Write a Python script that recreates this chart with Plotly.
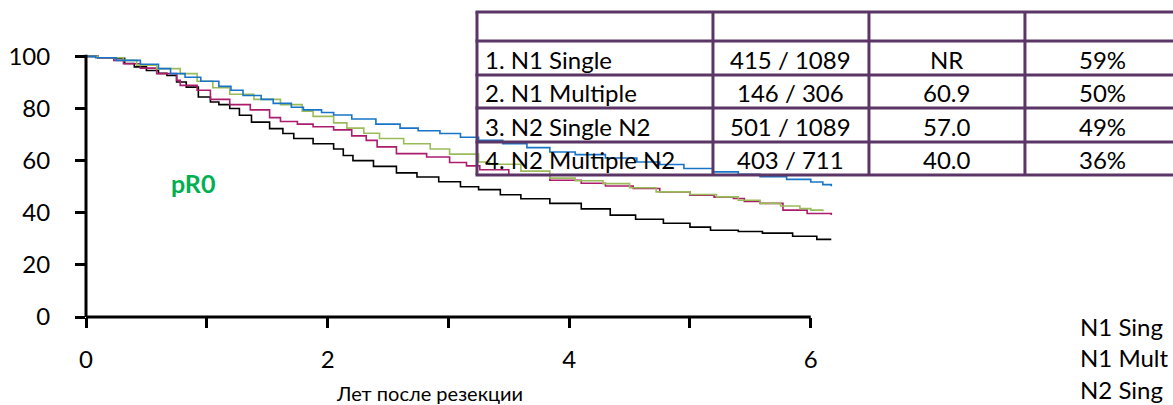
import plotly.graph_objects as go

# ---------------- data ----------------
series_names = ["1. N1 Single", "2. N1 Multiple", "3. N2 Single N2", "4. N2 Multiple N2"]
series_colors = ["#1874C8", "#9BBB59", "#AC1C6C", "#000000"]

t_n1_single = [0, 0.08, 0.25, 0.45, 0.6, 0.7, 0.82, 0.95, 1.1, 1.2, 1.3, 1.45, 1.55, 1.7, 1.8,
               1.95, 2.05, 2.2, 2.4, 2.6, 2.75, 2.93, 3.1, 3.25, 3.45, 3.65, 3.84, 4.05, 4.3,
               4.56, 4.75, 4.95, 5.19, 5.4, 5.58, 5.8, 6.0, 6.1, 6.17]
s_n1_single = [100, 99.5, 98.5, 97, 95.3, 93.4, 92, 90.5, 88.5, 87, 85, 83.5, 82, 80.5, 79.5,
               78.5, 77.5, 76, 74, 72.5, 71.5, 70.4, 69, 67.8, 66.5, 65, 63.3, 62.3, 61,
               59.5, 58.5, 57, 55.7, 54.8, 53.8, 52.8, 51.8, 50.8, 50.2]

t_n1_multiple = [0, 0.1, 0.31, 0.42, 0.585, 0.78, 0.92, 1.05, 1.19, 1.39, 1.61, 1.79, 1.88,
                 2.05, 2.16, 2.3, 2.43, 2.63, 2.85, 3.01, 3.25, 3.34, 3.6, 3.84, 4.05, 4.28,
                 4.5, 4.72, 5.0, 5.22, 5.4, 5.58, 5.75, 5.91, 6.0, 6.1]
s_n1_multiple = [100, 99.5, 98.5, 96.6, 95.3, 93.4, 90.5, 88, 85.5, 83.5, 81.5, 79, 77,
                 74.5, 72.5, 70.5, 68.5, 66.5, 64.5, 62.5, 59.5, 58.6, 56, 53.3, 52.3, 51.2,
                 49.6, 48, 47, 46.1, 44.8, 43.6, 42.6, 41.6, 41, 40.6]

t_n2_single = [0, 0.1, 0.23, 0.31, 0.45, 0.585, 0.75, 0.78, 0.92, 1.03, 1.19, 1.36, 1.52,
               1.61, 1.75, 1.88, 2.05, 2.2, 2.32, 2.41, 2.57, 2.82, 3.01, 3.15, 3.26, 3.5,
               3.84, 4.1, 4.3, 4.53, 4.75, 5.0, 5.2, 5.36, 5.45, 5.58, 5.77, 5.97, 6.17]
s_n2_single = [100, 99.3, 98.5, 97.2, 95.5, 93.4, 90.8, 88.9, 87, 83.5, 81.5, 79.5, 76.5,
               75, 74, 73, 71.8, 69.5, 67.8, 65.3, 62.7, 61.4, 59.3, 58, 56.5, 54.5,
               52.5, 51.3, 50.3, 49.3, 48, 46.7, 46, 45.5, 44.3, 43.6, 41, 39.7, 39.1]

t_n2_multiple = [0, 0.1, 0.32, 0.4, 0.5, 0.6, 0.67, 0.75, 0.83, 0.93, 1.03, 1.1, 1.19, 1.27,
                 1.37, 1.52, 1.63, 1.72, 1.88, 2.05, 2.13, 2.21, 2.38, 2.57, 2.74, 2.92, 3.1,
                 3.25, 3.43, 3.6, 3.84, 4.1, 4.34, 4.55, 4.78, 5.0, 5.17, 5.4, 5.6, 5.85,
                 6.05, 6.17]
s_n2_multiple = [100, 99.3, 97.3, 96, 94.6, 93.5, 92.7, 90.2, 88.2, 84.4, 82.5, 81.5, 80,
                 77.4, 74.8, 72.3, 70.4, 68.5, 66.5, 64.5, 62, 60, 57.8, 55.3, 53.7, 51.9,
                 50, 48.9, 46.9, 45.4, 43.6, 41.5, 39.1, 37.5, 36, 34.5, 33.3, 32.8, 32.2,
                 31, 29.8, 29.8]

series_t = [t_n1_single, t_n1_multiple, t_n2_single, t_n2_multiple]
series_s = [s_n1_single, s_n1_multiple, s_n2_single, s_n2_multiple]

table_labels = ["1. N1 Single", "2. N1 Multiple", "3. N2 Single N2", "4. N2 Multiple N2"]
table_events = ["415 / 1089", "146 / 306", "501 / 1089", "403 / 711"]
table_median = ["NR", "60.9", "57.0", "40.0"]
table_rate5 = ["59%", "50%", "49%", "36%"]

x_tick_vals = [0, 1, 2, 3, 4, 5, 6]
x_tick_text = ["0", "", "2", "", "4", "", "6"]
y_tick_vals = [0, 20, 40, 60, 80, 100]

x_title = "Лет после резекции"
panel_label = "pR0"
# legend entries of the original slide, visible only partly at the right edge
cut_legend = ["N1 Sing", "N1 Mult", "N2 Sing"]

# ---------------- layout geometry ----------------
W, H = 1173, 405
ML, MB, MT = 86, 88, 46
X_RANGE = [0, 6.3]
Y_RANGE = [0, 104]
PX_PER_X = 120.8
PLOT_W = (X_RANGE[1] - X_RANGE[0]) * PX_PER_X
MR = W - ML - PLOT_W
PLOT_H = H - MB - MT


def px_x(px):
    return (px - ML) / PLOT_W


def px_y(py):
    return ((H - MB) - py) / PLOT_H


FONT = "Lato"
fig = go.Figure()

draw_order = [3, 2, 1, 0]
for i in draw_order:
    fig.add_trace(go.Scatter(
        x=series_t[i], y=series_s[i], mode="lines", name=series_names[i],
        line=dict(color=series_colors[i], width=1.6, shape="hv"),
        showlegend=False, hoverinfo="skip"))

shapes = []
# axis lines
shapes.append(dict(type="line", xref="paper", yref="paper",
                   x0=0, x1=6 / X_RANGE[1], y0=0, y1=0,
                   line=dict(color="black", width=3)))
shapes.append(dict(type="line", xref="paper", yref="paper",
                   x0=0, x1=0, y0=0, y1=100.6 / Y_RANGE[1],
                   line=dict(color="black", width=3)))

# table grid
tbl_color = "#5B3566"
row_lines = [12, 41, 75, 108, 142, 175]
col_lines = [477, 713, 869, 1025]
tbl_right = 1200
for yl in row_lines:
    shapes.append(dict(type="line", xref="paper", yref="paper",
                       x0=px_x(col_lines[0] - 1.5), x1=px_x(tbl_right), y0=px_y(yl), y1=px_y(yl),
                       line=dict(color=tbl_color, width=3)))
for xl in col_lines:
    shapes.append(dict(type="line", xref="paper", yref="paper",
                       x0=px_x(xl), x1=px_x(xl), y0=px_y(row_lines[0]), y1=px_y(row_lines[-1]),
                       line=dict(color=tbl_color, width=3)))

annotations = []
col_centers = [None, 791, 947, 1103]
for r in range(4):
    yc = (row_lines[r + 1] + row_lines[r + 2]) / 2 + 1
    annotations.append(dict(xref="paper", yref="paper", x=px_x(483), y=px_y(yc),
                            text=table_labels[r], showarrow=False, xanchor="left", yanchor="middle",
                            font=dict(family=FONT, size=24, color="black")))
    for c, col in ((1, table_events), (2, table_median), (3, table_rate5)):
        annotations.append(dict(xref="paper", yref="paper", x=px_x(col_centers[c]), y=px_y(yc),
                                text=col[r], showarrow=False, xanchor="center", yanchor="middle",
                                font=dict(family=FONT, size=24, color="black")))

annotations.append(dict(xref="paper", yref="paper", x=px_x(193), y=px_y(183), text="<b>" + panel_label + "</b>",
                        showarrow=False, xanchor="center", yanchor="middle",
                        font=dict(family=FONT, size=25, color="#00B050")))
annotations.append(dict(xref="paper", yref="paper", x=px_x(430), y=px_y(393), text=x_title,
                        showarrow=False, xanchor="center", yanchor="middle",
                        font=dict(family=FONT, size=20, color="black")))
for k, txt in enumerate(cut_legend):
    annotations.append(dict(xref="paper", yref="paper", x=px_x(1078), y=px_y(326 + 31.5 * k), text=txt,
                            showarrow=False, xanchor="left", yanchor="middle",
                            font=dict(family=FONT, size=24, color="black")))

fig.update_layout(
    width=W, height=H,
    margin=dict(l=ML, r=MR, t=MT, b=MB, autoexpand=False),
    paper_bgcolor="white", plot_bgcolor="white",
    shapes=shapes, annotations=annotations,
    font=dict(family=FONT, color="black"),
    xaxis=dict(range=X_RANGE, showgrid=False, zeroline=False, showline=False,
               tickmode="array", tickvals=x_tick_vals, ticktext=x_tick_text,
               ticks="outside", ticklen=10, tickwidth=2.5, tickcolor="black",
               tickfont=dict(family=FONT, size=24, color="black"), ticklabelstandoff=11),
    yaxis=dict(range=Y_RANGE, showgrid=False, zeroline=False, showline=False,
               tickmode="array", tickvals=y_tick_vals,
               ticks="outside", ticklen=10, tickwidth=2.5, tickcolor="black",
               tickfont=dict(family=FONT, size=24, color="black"), ticklabelstandoff=20),
)

fig.write_html("out.html")
